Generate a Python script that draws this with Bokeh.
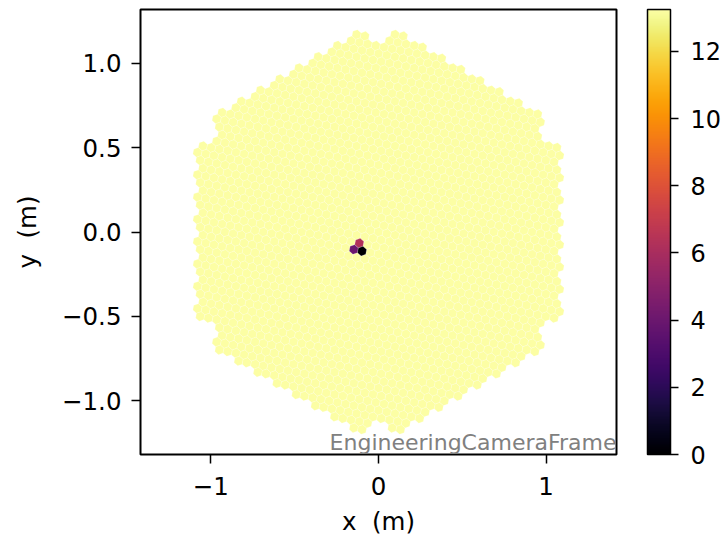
import math
import numpy as np
from bokeh.plotting import figure
from bokeh.models import (ColumnDataSource, ColorBar, LinearColorMapper, FixedTicker,
                          Label, Range1d, CustomJSTickFormatter)
from bokeh.palettes import Inferno256
from bokeh.embed import file_html
from bokeh.resources import INLINE

# ---- camera geometry (hexagonal camera: 7-pixel modules in a hexagon) ----
pixel_pitch = 0.05          # m, distance between neighbouring pixel centres
module_rings = 9            # rings of modules around the central one

# ---- data ----
background_value = 13.25    # value of almost every pixel
hot_pixel_x = [-0.113, -0.147, -0.094]
hot_pixel_y = [-0.065, -0.101, -0.111]
hot_pixel_values = [6.3, 4.0, 0.0]
color_low = 0.0
color_high = 13.25
x_ticks = [-1, 0, 1]
y_ticks = [-1.0, -0.5, 0.0, 0.5, 1.0]
colorbar_ticks = [0, 2, 4, 6, 8, 10, 12]
frame_label = "EngineeringCameraFrame"
x_label = "x\u00a0\u00a0(m)"
y_label = "y\u00a0\u00a0(m)"

# ---- build pixel geometry ----
mod_len = pixel_pitch * math.sqrt(7)
twist = math.atan(math.sqrt(3) / 5)
a_vec = np.array([0.0, mod_len])
c_vec = mod_len * np.array([math.cos(math.radians(30)), math.sin(math.radians(30))])
R = module_rings
module_centres = []
for i in range(-R, R + 1):
    for j in range(-R, R + 1):
        k = -i - j
        if max(abs(i), abs(j), abs(k)) > R:
            continue
        if sum(abs(t) == R for t in (i, j, k)) >= 2:
            continue
        module_centres.append(i * a_vec + j * c_vec)

phi0 = math.pi / 2 + twist
offsets = [np.array([0.0, 0.0])] + [
    pixel_pitch * np.array([math.cos(phi0 + n * math.pi / 3), math.sin(phi0 + n * math.pi / 3)])
    for n in range(6)
]
pix = np.array([m + o for m in module_centres for o in offsets])
pix_x, pix_y = pix[:, 0], pix[:, 1]

values = np.full(len(pix_x), background_value)
for hx, hy, hv in zip(hot_pixel_x, hot_pixel_y, hot_pixel_values):
    idx = int(np.argmin((pix_x - hx) ** 2 + (pix_y - hy) ** 2))
    values[idx] = hv

rad = pixel_pitch / math.sqrt(3)
vert_ang = [phi0 + math.pi / 6 + n * math.pi / 3 for n in range(6)]
xs = [[float(x + rad * math.cos(t)) for t in vert_ang] for x in pix_x]
ys = [[float(y + rad * math.sin(t)) for t in vert_ang] for y in pix_y]

# draw low values last so they are on top
order = np.argsort(-values, kind="stable")
src = ColumnDataSource(dict(xs=[xs[i] for i in order], ys=[ys[i] for i in order],
                            value=[float(values[i]) for i in order]))

mapper = LinearColorMapper(palette=Inferno256, low=color_low, high=color_high)

p = figure(frame_width=476, frame_height=445,
           x_range=Range1d(-1.42, 1.42), y_range=Range1d(-1.32, 1.32),
           output_backend="svg", toolbar_location=None,
           min_border_left=140, min_border_top=9, min_border_bottom=72, min_border_right=0)
p.grid.visible = False
p.background_fill_color = "white"
p.border_fill_color = "white"
p.outline_line_color = "black"
p.outline_line_width = 2
p.outline_line_alpha = 1

p.patches("xs", "ys", source=src,
          fill_color={"field": "value", "transform": mapper},
          line_color="white", line_alpha=0.3, line_width=0.6)

FONT = "DejaVu Sans"
for ax in (p.xaxis[0], p.yaxis[0]):
    ax.axis_line_color = None
    ax.major_tick_out = 9
    ax.major_tick_in = 0
    ax.major_tick_line_width = 1.5
    ax.minor_tick_line_color = None
    ax.major_label_text_font = FONT
    ax.major_label_text_font_size = "24.5px"
    ax.major_label_text_color = "black"
    ax.axis_label_text_font = FONT
    ax.axis_label_text_font_size = "24.5px"
    ax.axis_label_text_font_style = "normal"
    ax.axis_label_text_color = "black"

p.xaxis.ticker = FixedTicker(ticks=x_ticks)
p.yaxis.ticker = FixedTicker(ticks=y_ticks)
p.xaxis.formatter = CustomJSTickFormatter(code="return (tick < 0 ? '\\u2212' : '') + Math.abs(tick).toFixed(0);")
p.yaxis.formatter = CustomJSTickFormatter(code="return (tick < 0 ? '\\u2212' : '') + Math.abs(tick).toFixed(1);")
p.xaxis.axis_label = x_label
p.yaxis.axis_label = y_label
p.xaxis.major_label_standoff = 13
p.yaxis.major_label_standoff = 10
p.xaxis.axis_label_standoff = 9
p.yaxis.axis_label_standoff = 17

p.add_layout(Label(x=p.x_range.end, y=p.y_range.start, text=frame_label,
                   text_align="right", text_baseline="bottom",
                   text_font=FONT, text_font_size="22px", text_color="gray"))

cb = ColorBar(color_mapper=mapper, ticker=FixedTicker(ticks=colorbar_ticks),
              width=23, height=445, padding=0, margin=0, location=(31, 0),
              major_label_text_font=FONT, major_label_text_font_size="24px",
              major_label_text_color="black",
              major_tick_out=8, major_tick_in=0, major_tick_line_color="black",
              major_tick_line_width=1.5, minor_tick_line_color=None,
              bar_line_color="black", bar_line_width=1.5,
              border_line_color=None, background_fill_color=None, label_standoff=12)
p.add_layout(cb, "right")

open("out.html", "w").write(file_html(p, INLINE))
